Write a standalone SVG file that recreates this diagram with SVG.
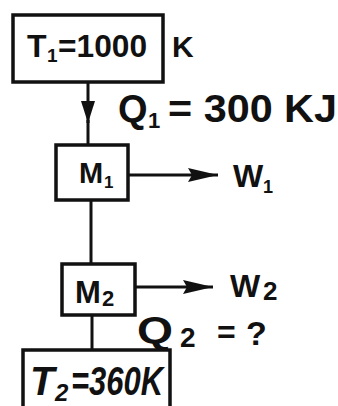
<svg xmlns="http://www.w3.org/2000/svg" width="338" height="406" viewBox="0 0 338 406">
<style>
.box{fill:#fff;stroke:#111;stroke-width:3.5}
.ln{stroke:#111;stroke-width:3;fill:none}
text{font-family:"Liberation Sans","DejaVu Sans",sans-serif;fill:#111;font-weight:bold}
.it{font-style:italic}
</style>
<defs>
<marker id="ah" viewBox="0 0 30 14" refX="30" refY="7" markerWidth="30" markerHeight="14" orient="auto" markerUnits="userSpaceOnUse">
<path d="M0,0 L30,7 L0,14 L4,7 z" fill="#111"/>
</marker>
<marker id="ahd" viewBox="0 0 22 14" refX="22" refY="7" markerWidth="22" markerHeight="14" orient="auto" markerUnits="userSpaceOnUse">
<path d="M0,0 L22,7 L0,14 z" fill="#111"/>
</marker>
</defs>
<g id="connectors">
<line class="ln" x1="88" y1="82" x2="88" y2="123" marker-end="url(#ahd)"/>
<line class="ln" x1="88" y1="120" x2="88" y2="145"/>
<line class="ln" x1="128" y1="175" x2="218" y2="175" marker-end="url(#ah)"/>
<line class="ln" x1="91" y1="200" x2="91" y2="264"/>
<line class="ln" x1="135" y1="287" x2="213" y2="287" marker-end="url(#ah)"/>
<line class="ln" x1="92" y1="315" x2="92" y2="350"/>
</g>
<g id="T1">
<rect class="box" x="13" y="15" width="150" height="67"/>
<text x="27" y="57" font-size="32">T</text>
<text x="47" y="62" font-size="19">1</text>
<text x="58" y="57" font-size="32" textLength="89" lengthAdjust="spacingAndGlyphs">=1000</text>
<text x="172" y="57" font-size="30">K</text>
</g>
<g id="Q1">
<text x="118" y="122" font-size="38">Q</text>
<text x="148" y="128" font-size="22">1</text>
<text x="168" y="122" font-size="38" textLength="169" lengthAdjust="spacingAndGlyphs">= 300 KJ</text>
</g>
<g id="M1">
<rect class="box" x="56" y="145" width="72" height="55"/>
<text x="79" y="183" font-size="29">M</text>
<text x="104" y="188" font-size="17">1</text>
</g>
<g id="W1">
<text x="233" y="187" font-size="32">W</text>
<text x="263" y="193" font-size="18">1</text>
</g>
<g id="M2">
<rect class="box" x="62" y="264" width="73" height="51"/>
<text x="75" y="303" font-size="31">M</text>
<text x="102" y="306" font-size="22">2</text>
</g>
<g id="W2">
<text x="230" y="297" font-size="32">W</text>
<text x="263" y="300" font-size="26">2</text>
</g>
<g id="Q2">
<text x="137" y="343" font-size="36" textLength="36" lengthAdjust="spacingAndGlyphs">Q</text>
<text x="180" y="347" font-size="28">2</text>
<text x="217" y="343" font-size="32">=</text>
<text x="246" y="345" font-size="34">?</text>
</g>
<g id="T2">
<rect class="box" x="23" y="350" width="147" height="62"/>
<text class="it" x="30" y="395" font-size="40">T</text>
<text class="it" x="55" y="401" font-size="24">2</text>
<text class="it" x="71" y="395" font-size="40" textLength="92" lengthAdjust="spacingAndGlyphs">=360K</text>
</g>
</svg>
